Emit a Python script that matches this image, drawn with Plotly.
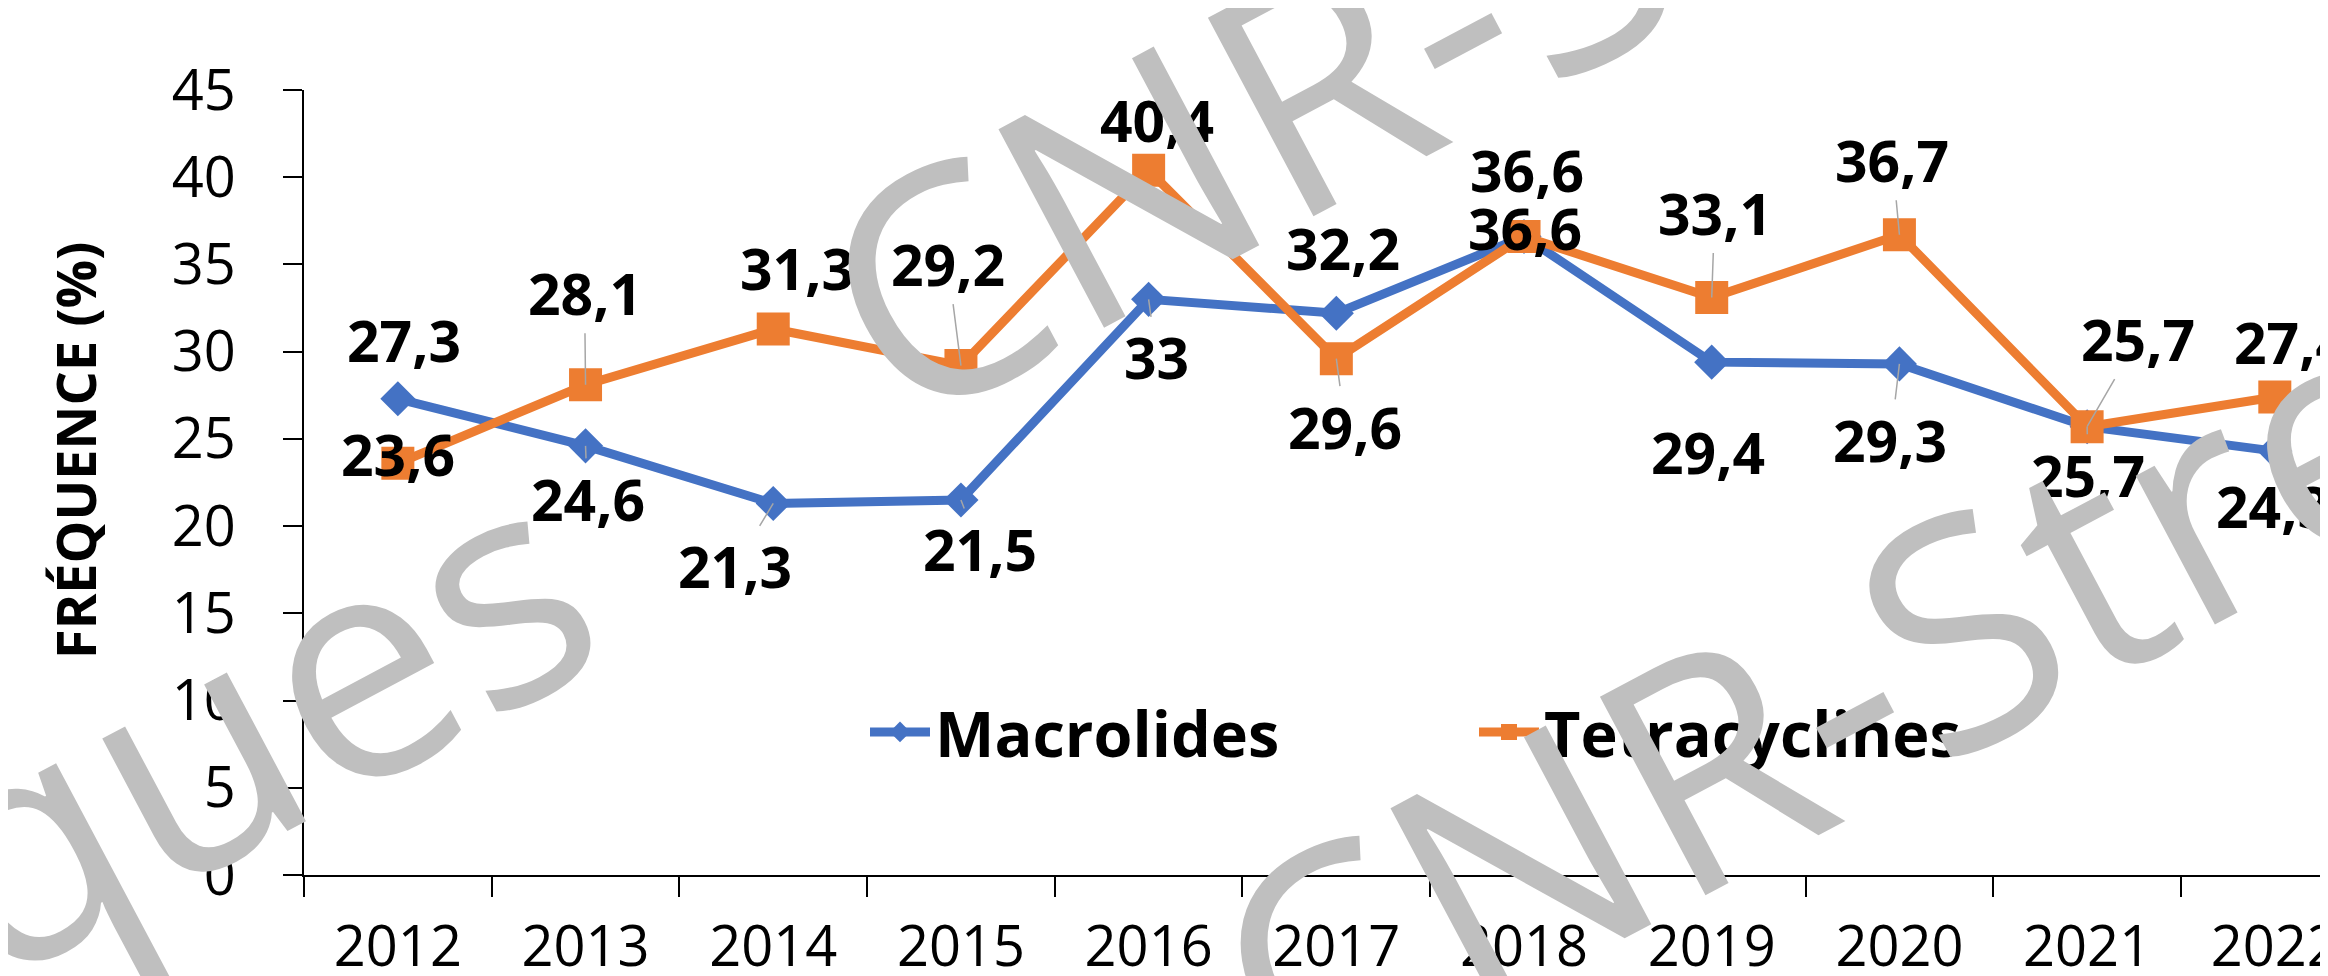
import plotly.graph_objects as go

# ---------------- data ----------------
years = ["2012", "2013", "2014", "2015", "2016", "2017", "2018", "2019", "2020", "2021", "2022"]
macrolides = [27.3, 24.6, 21.3, 21.5, 33, 32.2, 36.6, 29.4, 29.3, 25.7, 24.3]
tetracyclines = [23.6, 28.1, 31.3, 29.2, 40.4, 29.6, 36.6, 33.1, 36.7, 25.7, 27.4]
y_ticks = [0, 5, 10, 15, 20, 25, 30, 35, 40, 45]
series_names = ["Macrolides", "Tetracyclines"]
y_title = "FRÉQUENCE (%)"
watermark_text = "CNR-Streptocoques"

# label placement (pixel offsets from the point, leader line yes/no)
mac_label_pos = [(6, -59, False), (2, 53, True), (-38, 63, True), (19, 49, True), (8, 58, True),
                 (7, -65, False), (1, -9, False), (-4, 90, False), (-9, 76, True), (1, 48, True),
                 (-2, 55, True)]
tet_label_pos = [(0, -9, False), (-1, -92, True), (24, -61, False), (-13, -102, True), (8, -50, False),
                 (9, 68, True), (3, -67, False), (3, -85, True), (-7, -75, True), (51, -88, True),
                 (16, -55, False)]

BLUE = "#4472C4"
ORANGE = "#ED7D31"
FONT = "Open Sans"

W, H = 2328, 976
ML, MR, MT, MB = 296, 0, 82, 109
PW, PH = W - ML - MR, H - MT - MB


def px_to_paper(px, py):
    return (px - ML) / PW, (H - MB - py) / PH


fig = go.Figure()
fig.add_trace(go.Scatter(
    x=years, y=macrolides, name=series_names[0], mode="lines+markers",
    line=dict(color=BLUE, width=9),
    marker=dict(symbol="diamond", size=27, color=BLUE),
    legend="legend", cliponaxis=False,
))
fig.add_trace(go.Scatter(
    x=years, y=tetracyclines, name=series_names[1], mode="lines+markers",
    line=dict(color=ORANGE, width=9),
    marker=dict(symbol="square", size=33, color=ORANGE),
    legend="legend2", cliponaxis=False,
))

annotations = []


def fmt(v):
    return f"{v:g}".replace(".", ",")


# data labels (x given as category serial number, as plotly expects for category axes)
for vals, pos in ((macrolides, mac_label_pos), (tetracyclines, tet_label_pos)):
    for i, (v, (dx, dy, lead)) in enumerate(zip(vals, pos)):
        annotations.append(dict(
            x=i, y=v, xref="x", yref="y", text=fmt(v),
            showarrow=True, ax=dx, ay=dy, arrowhead=0, arrowwidth=1.5,
            arrowcolor="#A6A6A6" if lead else "rgba(0,0,0,0)", standoff=0,
            font=dict(family=FONT, size=57, color="black", weight="bold"),
        ))

# y axis title
tx, ty = px_to_paper(67, 443)
annotations.append(dict(
    x=tx, y=ty, xref="paper", yref="paper", text=y_title, showarrow=False,
    textangle=-90, xanchor="center", yanchor="middle",
    font=dict(family=FONT, size=54, color="black", weight="bold"),
))

# watermark (drawn on top)
for cx, cy in [(2103, -355), (-714, 1212), (2495, 324), (-1156, 475)]:
    xp, yp = px_to_paper(cx, cy)
    annotations.append(dict(
        x=xp, y=yp, xref="paper", yref="paper", text=watermark_text, showarrow=False,
        textangle=-28, xanchor="center", yanchor="middle",
        font=dict(family=FONT, size=315, color="#BFBFBF"),
    ))

lx1, ly = px_to_paper(857, 724)
lx2, _ = px_to_paper(1466, 724)
legend_common = dict(yanchor="middle", xanchor="left", y=ly, orientation="h",
                     bgcolor="rgba(0,0,0,0)", borderwidth=0, itemwidth=60,
                     font=dict(family=FONT, size=63, color="black", weight="bold"))

fig.update_layout(
    width=W, height=H,
    margin=dict(l=ML, r=MR, t=MT, b=MB, autoexpand=False),
    paper_bgcolor="white", plot_bgcolor="white",
    showlegend=True,
    legend=dict(x=lx1, **legend_common),
    legend2=dict(x=lx2, **legend_common),
    annotations=annotations,
    xaxis=dict(
        type="category", range=[-0.5, 10.326], tickson="boundaries",
        ticks="outside", ticklen=20, tickwidth=2, tickcolor="black",
        showline=True, linecolor="black", linewidth=2, showgrid=False, zeroline=False,
        tickfont=dict(family=FONT, size=56, color="black"), ticklabelstandoff=22,
    ),
    yaxis=dict(
        range=[0, 45], tickvals=y_ticks, ticks="outside", ticklen=19, tickwidth=2, tickcolor="black",
        showline=True, linecolor="black", linewidth=2, showgrid=False, zeroline=False,
        tickfont=dict(family=FONT, size=56, color="black"), ticklabelstandoff=36,
    ),
)

fig.write_html("out.html")
